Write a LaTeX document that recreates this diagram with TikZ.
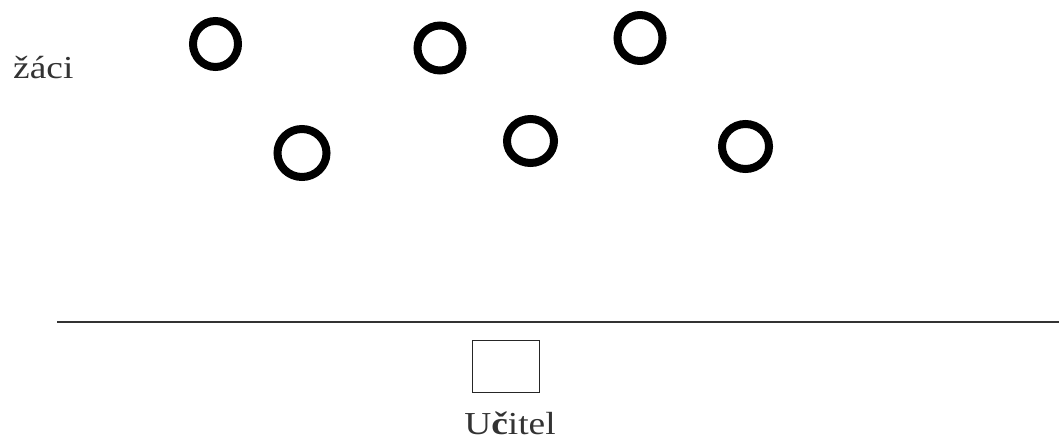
\documentclass[tikz,border=0pt]{standalone}
\usepackage{fontspec}
\setmainfont{Liberation Serif}
\newfontfamily\labelfont[FakeStretch=1.17]{Liberation Serif}
\usetikzlibrary{shapes.geometric}
\begin{document}
\begin{tikzpicture}[x=1pt,y=-1pt,
  pupil/.style={draw=black, line width=8pt, ellipse, inner sep=0pt},
  desk/.style={draw=black!85, line width=1.3pt, rectangle, inner sep=0pt,
    minimum width=67pt, minimum height=52pt},
  caption/.style={font=\labelfont\fontsize{32}{36}\selectfont, text=black!80, inner sep=0pt},
  board/.style={draw=black!80, line width=1.8pt}]
  \useasboundingbox (0,0) rectangle (1059,439);
  % pupils, back row
  \node[pupil, minimum width=45pt, minimum height=46pt] (p1) at (215.5,44) {};
  \node[pupil, minimum width=45pt, minimum height=45pt] (p2) at (440,48) {};
  \node[pupil, minimum width=45pt, minimum height=46pt] (p3) at (640,38) {};
  % pupils, front row
  \node[pupil, minimum width=49pt, minimum height=48pt] (p4) at (302,153) {};
  \node[pupil, minimum width=47pt, minimum height=44pt] (p5) at (530.5,141) {};
  \node[pupil, minimum width=47pt, minimum height=45pt] (p6) at (745.5,146.5) {};
  % label for the pupils
  \node[caption, anchor=base west] (zaci) at (13,78) {žáci};
  % front edge of the room
  \coordinate (f1) at (57,322);
  \coordinate (f2) at (1059,322);
  \draw[board] (f1) -- (f2);
  % teacher's desk and label
  \node[desk] (ucitel) at (506,366.5) {};
  \node[caption, anchor=base] (ucitellbl) at (510,434) {U{\bfseries č}itel};
\end{tikzpicture}
\end{document}
